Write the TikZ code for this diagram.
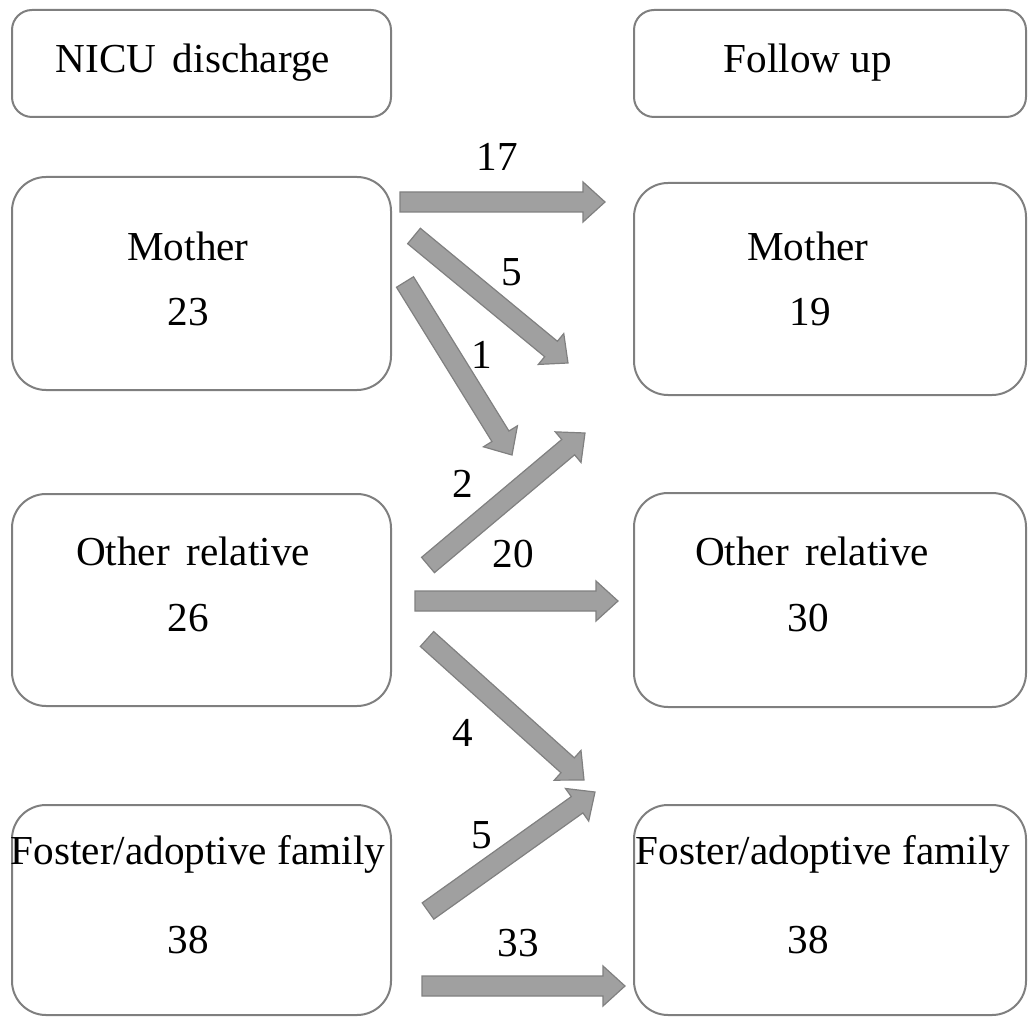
\documentclass[tikz,border=0pt]{standalone}
\usepackage{fontspec}
\setmainfont{Liberation Serif}
\usetikzlibrary{calc}
\definecolor{boxline}{HTML}{7F7F7F}
\definecolor{arrfill}{HTML}{A0A0A0}
\definecolor{arrline}{HTML}{808080}
\tikzset{
  bigbox/.style={draw=boxline,line width=1pt,rounded corners=17pt},
  headbox/.style={draw=boxline,line width=1pt,rounded corners=10pt},
  txt/.style={font=\fontsize{20.6pt}{24pt}\selectfont,inner sep=0pt,anchor=center},
  blockarr/.style={draw=arrline,fill=arrfill,line width=0.6pt,line join=miter},
}
\newcommand\barrow[2]{%
  \coordinate (h-#1-#2) at ($(#2)!11pt!(#1)$);
  \path[blockarr] ($(#1)!5pt!90:(#2)$) -- ($(h-#1-#2)!5pt!90:(#2)$) -- ($(h-#1-#2)!10pt!90:(#2)$)
    -- (#2) -- ($(h-#1-#2)!10pt!-90:(#2)$) -- ($(h-#1-#2)!5pt!-90:(#2)$) -- ($(#1)!5pt!-90:(#2)$) -- cycle;
}
\begin{document}
\begin{tikzpicture}[x=0.5pt,y=-0.5pt]
\useasboundingbox (0,0) rectangle (1032,1021);
% boxes
\draw[headbox] (12,10) rectangle (391,117);
\draw[headbox] (634,10) rectangle (1026,117);
\draw[bigbox] (12,177) rectangle (391,390);
\draw[bigbox] (634,183) rectangle (1026,395);
\draw[bigbox] (12,494) rectangle (391,706);
\draw[bigbox] (634,493) rectangle (1026,707);
\draw[bigbox] (12,805) rectangle (391,1015);
\draw[bigbox] (634,805) rectangle (1026,1015);
% texts
\node[txt] (hl) at (193,63) {NICU\hspace{0.4em}discharge};
\node[txt] (hr) at (808,63) {Follow up};
\node[txt] (ml) at (188,246) {Mother};
\node[txt] (mln) at (188,312) {23};
\node[txt] (mr) at (808,246) {Mother};
\node[txt] (mrn) at (810,312) {19};
\node[txt] (ol) at (193,551) {Other\hspace{0.4em}relative};
\node[txt] (oln) at (188,618) {26};
\node[txt] (or) at (812,551) {Other\hspace{0.4em}relative};
\node[txt] (orn) at (808,618) {30};
\node[txt] (fl) at (198,854) {Foster/adoptive family};
\node[txt] (fln) at (188,940) {38};
\node[txt] (fr) at (823,854) {Foster/adoptive family};
\node[txt] (frn) at (808,940) {38};
% arrow end points
\coordinate (a1s) at (400,202); \coordinate (a1e) at (605,202);
\coordinate (a2s) at (414,236); \coordinate (a2e) at (568,363);
\coordinate (a3s) at (405,282); \coordinate (a3e) at (512,455);
\coordinate (a4s) at (428,565); \coordinate (a4e) at (585,433);
\coordinate (a5s) at (415,601); \coordinate (a5e) at (618,601);
\coordinate (a6s) at (427,639); \coordinate (a6e) at (584,780);
\coordinate (a7s) at (428,911); \coordinate (a7e) at (595,792);
\coordinate (a8s) at (422,986); \coordinate (a8e) at (625,986);
\barrow{a1s}{a1e}
\barrow{a2s}{a2e}
\barrow{a3s}{a3e}
\barrow{a4s}{a4e}
\barrow{a5s}{a5e}
\barrow{a6s}{a6e}
\barrow{a7s}{a7e}
\barrow{a8s}{a8e}
% labels
\node[txt] (l1) at (497,157) {17};
\node[txt] (l2) at (512,272) {5};
\node[txt] (l3) at (482,355) {1};
\node[txt] (l4) at (463,484) {2};
\node[txt] (l5) at (513,554) {20};
\node[txt] (l6) at (463,733) {4};
\node[txt] (l7) at (482,835) {5};
\node[txt] (l8) at (518,943) {33};
\end{tikzpicture}
\end{document}
